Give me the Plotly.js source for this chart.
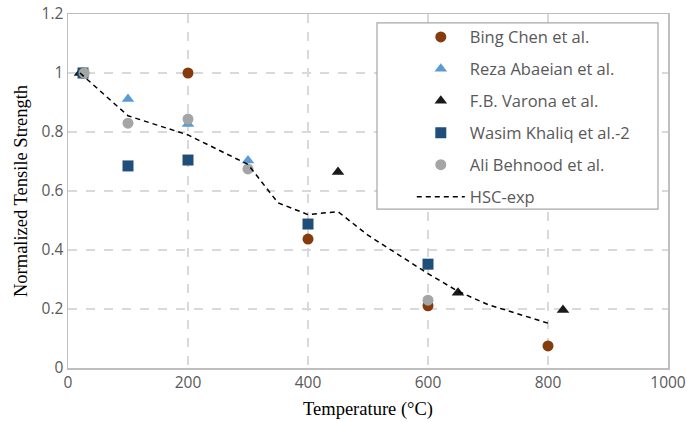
<!DOCTYPE html>
<html>
<head>
<meta charset="utf-8">
<script src="https://cdn.plot.ly/plotly-3.0.1.min.js"></script>
<style>html,body{margin:0;padding:0;background:#fff;}#chart{width:687px;height:422px;}</style>
</head>
<body>
<div id="chart"></div>
<script>
// Data
const chenT = [25, 200, 400, 600, 800];
const chenS = [1.0, 1.0, 0.437, 0.211, 0.075];

const abaeianT = [25, 100, 200, 300];
const abaeianS = [1.0, 0.912, 0.827, 0.703];

const varonaT = [20, 450, 650, 825];
const varonaS = [1.0, 0.664, 0.255, 0.197];

const khaliqT = [25, 100, 200, 400, 600];
const khaliqS = [1.0, 0.685, 0.705, 0.488, 0.352];

const behnoodT = [27, 100, 200, 300, 600];
const behnoodS = [1.0, 0.83, 0.844, 0.675, 0.23];

const hscT = [20, 100, 200, 300, 350, 400, 450, 500, 600, 650, 700, 800];
const hscS = [1.0, 0.855, 0.79, 0.69, 0.56, 0.52, 0.53, 0.45, 0.32, 0.26, 0.215, 0.152];

const names = ['Bing Chen et al.', 'Reza Abaeian et al.', 'F.B. Varona et al.', 'Wasim Khaliq et al.-2', 'Ali Behnood et al.', 'HSC-exp'];

const xTicks = [0, 200, 400, 600, 800, 1000];
const yTicks = [0, 0.2, 0.4, 0.6, 0.8, 1, 1.2];
const yTickText = ['0', '0.2', '0.4', '0.6', '0.8', '1', '1.2'];

const sansFont = '"Open Sans", Lato, sans-serif';
const serifFont = '"Liberation Serif", "Times New Roman", serif';

const traces = [
  {x: chenT, y: chenS, name: names[0], mode: 'markers', type: 'scatter', legendgroup: 'g1',
   marker: {symbol: 'circle', size: 11, color: '#843C0C'}},
  {x: abaeianT, y: abaeianS, name: names[1], mode: 'markers', type: 'scatter', legendgroup: 'g2',
   marker: {symbol: 'triangle-up', size: 11, color: '#5B9BD5'}},
  {x: varonaT, y: varonaS, name: names[2], mode: 'markers', type: 'scatter', legendgroup: 'g3',
   marker: {symbol: 'triangle-up', size: 11, color: '#1A1A1A'}},
  {x: khaliqT, y: khaliqS, name: names[3], mode: 'markers', type: 'scatter', legendgroup: 'g4',
   marker: {symbol: 'square', size: 11, color: '#1F4E79'}},
  {x: behnoodT, y: behnoodS, name: names[4], mode: 'markers', type: 'scatter', legendgroup: 'g5',
   marker: {symbol: 'circle', size: 11, color: '#A5A5A5'}},
  {x: hscT, y: hscS, name: names[5], mode: 'lines', type: 'scatter', legendgroup: 'g6',
   line: {color: '#000000', width: 1.5, dash: '5px,4px'}}
];

const layout = {
  width: 687, height: 422,
  margin: {l: 68, r: 19, t: 14, b: 54},
  paper_bgcolor: '#ffffff', plot_bgcolor: '#ffffff',
  showlegend: true,
  legend: {
    x: 0.573, y: 0.984, xanchor: 'left', yanchor: 'top',
    bgcolor: 'rgba(0,0,0,0)', borderwidth: 0,
    font: {family: sansFont, size: 16.5, color: '#595959'},
    tracegroupgap: 7.5, itemwidth: 48
  },
  xaxis: {
    range: [0, 1000], tickvals: xTicks, ticktext: xTicks.map(String),
    showgrid: true, gridcolor: '#D9D9D9', griddash: 'dash', gridwidth: 1.3,
    zeroline: false, showline: true, linecolor: '#BFBFBF', linewidth: 1.5, mirror: true,
    ticks: '', tickfont: {family: sansFont, size: 15.5, color: '#595959'},
    title: {text: 'Temperature (°C)', font: {family: serifFont, size: 18.5, color: '#000'}, standoff: 10}
  },
  yaxis: {
    range: [0, 1.2], tickvals: yTicks, ticktext: yTickText,
    showgrid: true, gridcolor: '#D9D9D9', griddash: 'dash', gridwidth: 1.3,
    zeroline: false, showline: true, linecolor: '#BFBFBF', linewidth: 1.5, mirror: true,
    ticks: '', tickfont: {family: sansFont, size: 15.5, color: '#595959'},
    title: {text: 'Normalized Tensile Strength', font: {family: serifFont, size: 18.5, color: '#000'}, standoff: 9}
  },
  shapes: [
    {type: 'rect', xref: 'paper', yref: 'paper', x0: 0.515, x1: 0.9833, y0: 0.449, y1: 0.975,
     line: {color: '#A6A6A6', width: 1.2}, fillcolor: 'rgba(255,255,255,1)', layer: 'above'}
  ]
};

Plotly.newPlot('chart', traces, layout, {displayModeBar: false, staticPlot: true});
</script>
</body>
</html>
